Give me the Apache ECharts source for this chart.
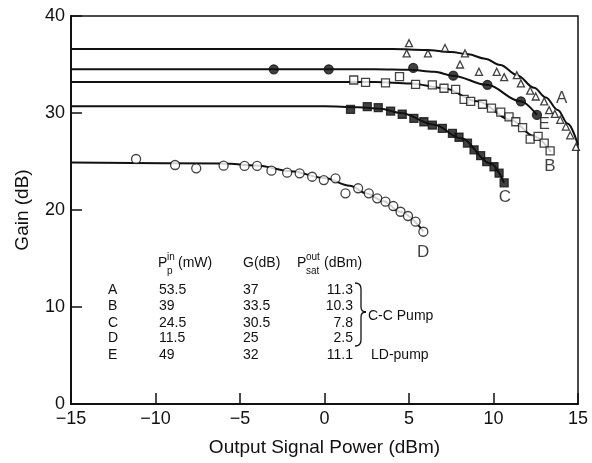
<!DOCTYPE html>
<html>
<head>
<meta charset="utf-8">
<script src="https://cdn.jsdelivr.net/npm/echarts@6/dist/echarts.min.js"></script>
<style>
  html, body { margin: 0; padding: 0; background: #fff; }
  #chart { width: 592px; height: 463px; }
</style>
</head>
<body>
<div id="chart"></div>
<script>
// Axis ticks
const xTicks = [-15, -10, -5, 0, 5, 10, 15];
const yTicks = [0, 10, 20, 30, 40];

// Measured gain points, [output power dBm, gain dB]
const pointsA = [[5.0,37.2],[4.86,36.15],[6.12,36.15],[7.13,36.7],[8.31,36.15],[8.02,35.0],[9.14,34.25],[10.19,34.25],[10.63,33.7],[11.38,33.9],[11.62,33.05],[12.17,32.3],[12.5,31.7],[13.0,31.2],[13.29,30.3],[13.63,29.9],[13.95,29.3],[14.28,28.6],[14.54,27.7],[14.88,26.5]];
const pointsE = [[-3.0,34.5],[0.25,34.5],[5.25,34.65],[7.62,33.85],[9.64,32.9],[11.62,31.2],[12.57,29.8]];
const pointsB = [[1.73,33.4],[2.43,33.16],[3.61,33.1],[4.44,33.75],[5.39,32.96],[6.38,32.9],[7.07,32.55],[7.76,32.44],[8.26,31.4],[8.65,31.2],[9.35,30.9],[9.88,30.5],[10.43,30.1],[10.92,29.6],[11.32,29.1],[11.72,28.5],[12.17,27.3],[12.64,27.6],[13.0,26.9],[13.35,26.1]];
const pointsC = [[1.54,30.37],[2.53,30.65],[3.18,30.55],[3.91,30.2],[4.6,29.87],[5.29,29.45],[5.88,29.1],[6.38,28.76],[6.97,28.42],[7.57,27.9],[7.96,27.5],[8.46,26.9],[8.85,26.2],[9.24,25.6],[9.6,24.98],[10.03,24.46],[10.33,23.8],[10.63,22.8]];
const pointsD = [[-11.15,25.26],[-8.84,24.64],[-7.59,24.3],[-5.97,24.57],[-4.73,24.54],[-3.99,24.54],[-3.14,24.05],[-2.21,23.85],[-1.47,23.78],[-0.73,23.43],[-0.04,23.09],[0.65,23.27],[1.24,21.72],[1.99,22.24],[2.62,21.72],[3.12,21.2],[3.61,20.86],[4.07,20.41],[4.5,19.82],[4.94,19.38],[5.39,18.8],[5.85,17.76]];

// Fitted gain curves
const curveA = [[-15,36.6],[4,36.6],[6,36.5],[7.5,36.3],[8.5,36.05],[9.5,35.6],[10.4,34.95],[11.4,33.9],[12.4,32.6],[13.1,31.6],[13.8,30.3],[14.4,28.9],[15,26.7]];
const curveE = [[-15,34.5],[3,34.5],[5,34.45],[6.5,34.25],[7.6,33.85],[9.6,32.9],[11.6,31.2],[12.57,29.8]];
const curveB = [[-15,33.2],[3,33.2],[5.1,33.05],[7.07,32.55],[9.05,31.2],[11.02,29.3],[12.4,27.6],[13.4,26.0]];
const curveC = [[-15,30.7],[0,30.7],[2,30.6],[3.3,30.45],[4.5,30.0],[6.5,28.8],[8.06,27.4],[9.84,24.8],[10.63,22.8]];
const curveD = [[-15,24.9],[-6,24.8],[-4,24.6],[-2,24.0],[0,23.3],[1.5,22.5],[2.5,21.7],[3.5,20.9],[4.5,19.8],[5.85,17.8]];

// Curve tags
const tagNames = ['A', 'E', 'B', 'C', 'D'];
const tagPositions = [[14.04,31.5],[13.0,28.8],[13.34,24.5],[10.68,21.3],[5.83,15.6]];

// Parameter table
const tableRows = ['A', 'B', 'C', 'D', 'E'];
const pumpPower = ['53.5', '39', '24.5', '11.5', '49'];
const smallGain = ['37', '33.5', '30.5', '25', '32'];
const satPower = ['11.3', '10.3', '7.8', '2.5', '11.1'];

const FONT = 'Liberation Sans, Arial, Helvetica, sans-serif';
const chart = echarts.init(document.getElementById('chart'), null, { renderer: 'canvas' });

function lineSeries(data) {
  return {
    type: 'line', data: data, showSymbol: false, symbol: 'none',
    smooth: 0.35, smoothMonotone: 'x',
    lineStyle: { color: '#111', width: 2 }, z: 2, silent: true
  };
}
function markerSeries(data, symbol, size, filled) {
  return {
    type: 'scatter', data: data, symbol: symbol, symbolSize: size,
    itemStyle: { color: filled ? '#111' : '#fff', borderColor: '#111', borderWidth: 1.3 },
    z: 3, silent: true
  };
}

function txt(text, x, y, opts) {
  opts = opts || {};
  return {
    type: 'text', x: x, y: y, silent: true,
    style: {
      text: text, fill: '#111',
      font: (opts.size || 14) + 'px ' + FONT,
      textAlign: opts.align || 'left', align: opts.align || 'left',
      textVerticalAlign: 'middle', verticalAlign: 'middle'
    }
  };
}
function curve(x1, y1, c1x, c1y, c2x, c2y, x2, y2) {
  return {
    type: 'bezierCurve', silent: true,
    shape: { x1: x1, y1: y1, cpx1: c1x, cpy1: c1y, cpx2: c2x, cpy2: c2y, x2: x2, y2: y2 },
    style: { fill: null, stroke: '#111', lineWidth: 1.3 }
  };
}
function seg(x1, y1, x2, y2) {
  return {
    type: 'line', silent: true,
    shape: { x1: x1, y1: y1, x2: x2, y2: y2 },
    style: { stroke: '#111', lineWidth: 1.3 }
  };
}

const rowY = [290, 306.5, 323, 338.5, 355];
const graphics = [];
// header
graphics.push(txt('P', 158, 263));
graphics.push(txt('in', 167, 257, { size: 10 }));
graphics.push(txt('p', 167, 271, { size: 10 }));
graphics.push(txt('(mW)', 178, 263));
graphics.push(txt('G(dB)', 243, 263));
graphics.push(txt('P', 297, 263));
graphics.push(txt('out', 306, 257, { size: 10 }));
graphics.push(txt('sat', 306, 271, { size: 10 }));
graphics.push(txt('(dBm)', 324, 263));
tableRows.forEach(function (r, i) {
  graphics.push(txt(r, 108, rowY[i]));
  graphics.push(txt(pumpPower[i], 159, rowY[i]));
  graphics.push(txt(smallGain[i], 243, rowY[i]));
  graphics.push(txt(satPower[i], 353, rowY[i], { align: 'right' }));
});
// brace grouping the C-C pumped rows
graphics.push(curve(355, 283, 359, 283, 361, 285, 361, 289));
graphics.push(seg(361, 289, 361, 307));
graphics.push(curve(361, 307, 361, 310, 363, 312, 366, 312));
graphics.push(curve(366, 312, 363, 312, 361, 314, 361, 317));
graphics.push(seg(361, 317, 361, 340));
graphics.push(curve(361, 340, 361, 344, 359, 346, 355, 346));
graphics.push(txt('C-C Pump', 368, 316));
graphics.push(txt('LD-pump', 371, 355));

const option = {
  backgroundColor: '#fff',
  animation: false,
  grid: { left: 71, right: 14, top: 16, bottom: 59, show: true, borderColor: '#111', borderWidth: 1.5, containLabel: false },
  xAxis: {
    type: 'value', min: xTicks[0], max: xTicks[xTicks.length - 1], interval: 5,
    name: 'Output Signal Power (dBm)', nameLocation: 'middle', nameGap: 34,
    nameTextStyle: { fontFamily: FONT, fontSize: 19, color: '#111' },
    axisLine: { show: true, onZero: false, lineStyle: { color: '#111', width: 2 } },
    axisTick: { show: true, inside: true, length: 11, lineStyle: { color: '#111', width: 1.5 } },
    axisLabel: { fontFamily: FONT, fontSize: 18, color: '#111', margin: 6,
      formatter: function (v) { return xTicks.indexOf(v) >= 0 ? String(v).replace('-', '\u2212') : ''; } },
    splitLine: { show: false }
  },
  yAxis: {
    type: 'value', min: yTicks[0], max: yTicks[yTicks.length - 1], interval: 10,
    name: 'Gain (dB)', nameLocation: 'middle', nameGap: 39,
    nameTextStyle: { fontFamily: FONT, fontSize: 19, color: '#111' },
    axisLine: { show: true, onZero: false, lineStyle: { color: '#111', width: 2 } },
    axisTick: { show: true, inside: true, length: 11, lineStyle: { color: '#111', width: 1.5 } },
    axisLabel: { fontFamily: FONT, fontSize: 18, color: '#111', margin: 6 },
    splitLine: { show: false }
  },
  series: [
    lineSeries(curveA), lineSeries(curveE), lineSeries(curveB), lineSeries(curveC), lineSeries(curveD),
    markerSeries(pointsA, 'triangle', 7, false),
    markerSeries(pointsE, 'circle', 9, true),
    markerSeries(pointsB, 'rect', 8, false),
    markerSeries(pointsC, 'rect', 8, true),
    markerSeries(pointsD, 'circle', 9, false),
    {
      type: 'scatter', symbolSize: 1, silent: true, z: 4,
      itemStyle: { color: 'rgba(0,0,0,0)' },
      data: tagPositions.map(function (p, i) { return { value: p, name: tagNames[i] }; }),
      label: { show: true, position: 'inside', formatter: '{b}', fontFamily: FONT, fontSize: 17, color: '#111' }
    }
  ],
  graphic: graphics
};
chart.setOption(option);
</script>
</body>
</html>
